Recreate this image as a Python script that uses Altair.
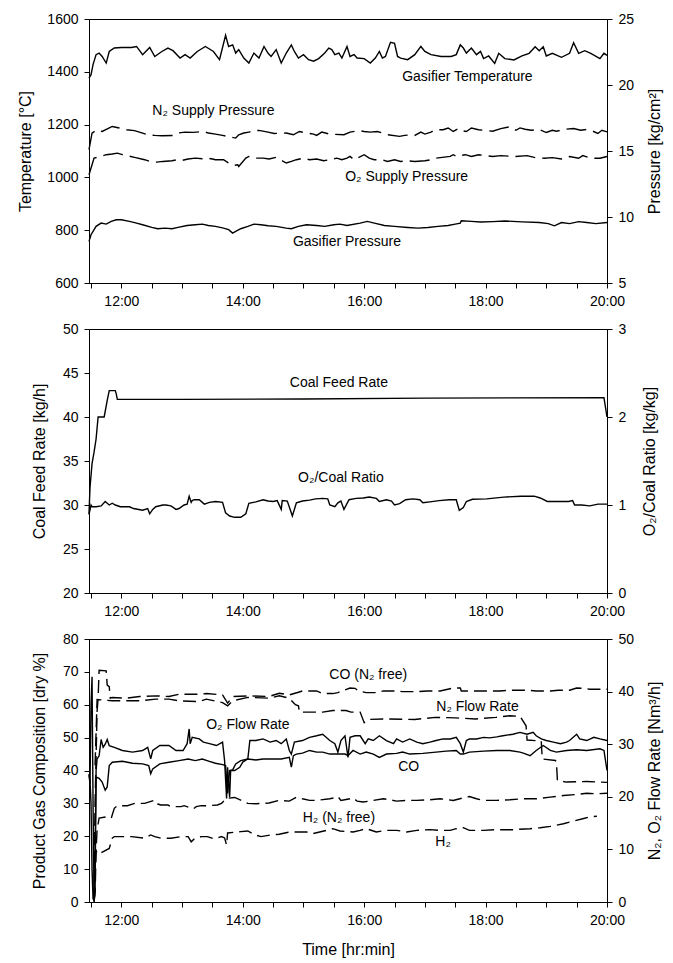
import altair as alt
import pandas as pd

FONT = "Liberation Sans"

# ---------------- Panel 1: temperature and pressures ----------------
GASIFIER_TEMPERATURE = [("11:28",1376),("11:30",1389),("11:32",1427),("11:35",1465),("11:38",1471),("11:41",1458),("11:45",1433),("11:48",1477),("11:53",1490),("12:00",1492),("12:10",1492),("12:15",1496),("12:21",1465),("12:28",1492),("12:33",1458),("12:40",1477),("12:46",1490),("12:51",1480),("12:58",1452),("13:03",1465),("13:08",1452),("13:15",1477),("13:23",1496),("13:31",1477),("13:37",1446),("13:43",1538),("13:46",1496),("13:50",1502),("13:53",1471),("13:56",1484),("14:01",1452),("14:06",1433),("14:11",1471),("14:16",1452),("14:21",1496),("14:25",1470),("14:28",1458),("14:33",1484),("14:38",1433),("14:43",1471),("14:48",1502),("14:51",1477),("14:55",1452),("15:00",1465),("15:05",1446),("15:10",1440),("15:15",1450),("15:21",1471),("15:25",1490),("15:28",1484),("15:31",1465),("15:35",1471),("15:38",1452),("15:43",1496),("15:46",1458),("15:50",1465),("15:53",1452),("16:00",1450),("16:06",1433),("16:11",1452),("16:15",1477),("16:18",1452),("16:21",1458),("16:26",1512),("16:30",1508),("16:33",1458),("16:36",1452),("16:43",1446),("16:50",1465),("16:56",1496),("17:00",1477),("17:06",1465),("17:16",1458),("17:26",1458),("17:31",1465),("17:35",1502),("17:38",1490),("17:41",1471),("17:46",1490),("17:51",1465),("17:55",1477),("17:58",1450),("18:03",1460),("18:09",1432),("18:13",1470),("18:19",1450),("18:28",1445),("18:36",1460),("18:43",1470),("18:49",1495),("18:53",1480),("18:57",1495),("19:00",1460),("19:06",1470),("19:15",1455),("19:23",1470),("19:27",1510),("19:32",1470),("19:38",1480),("19:44",1470),("19:53",1450),("19:57",1470),("20:00",1462)]

N2_SUPPLY_PRESSURE = [("11:28",15.1),("11:31",16.36),("11:36",16.61),("11:41",16.48),("11:51",16.86),("11:58",16.74),("12:05",16.61),("12:13",16.54),("12:21",16.36),("12:26",16.23),("12:33",16.18),("12:40",16.16),("12:51",16.18),("12:56",16.36),("13:03",16.43),("13:11",16.41),("13:21",16.48),("13:26",16.36),("13:33",16.28),("13:40",16.18),("13:45",16.11),("13:53",15.98),("13:56",16.23),("14:01",16.36),("14:06",16.43),("14:13",16.54),("14:16",16.56),("14:25",16.43),("14:31",16.33),("14:43",16.36),("14:50",16.23),("14:56",16.48),("15:03",16.36),("15:10",16.28),("15:13",16.18),("15:18",16.43),("15:26",16.28),("15:40",16.23),("15:46",16.43),("15:55",16.54),("16:00",16.48),("16:06",16.43),("16:13",16.48),("16:18",16.36),("16:23",16.23),("16:35",16.11),("16:40",16.18),("16:46",16.23),("16:50",16.18),("16:56",16.43),("17:00",16.28),("17:06",16.43),("17:10",16.61),("17:18",16.61),("17:23",16.74),("17:28",16.48),("17:33",16.69),("17:36",16.54),("17:41",16.48),("17:46",16.74),("17:53",16.61),("18:07",16.5),("18:15",16.7),("18:24",16.83),("18:30",16.57),("18:34",16.75),("18:39",16.65),("18:45",16.57),("18:53",16.63),("19:00",16.4),("19:06",16.57),("19:10",16.5),("19:19",16.65),("19:27",16.7),("19:34",16.57),("19:40",16.63),("19:46",16.5),("19:51",16.33),("19:55",16.57),("20:00",16.45)]

O2_SUPPLY_PRESSURE = [("11:28",13.2),("11:33",14.46),("11:40",14.59),("11:45",14.72),("11:51",14.77),("11:56",14.84),("12:01",14.72),("12:06",14.64),("12:13",14.52),("12:23",14.34),("12:28",14.21),("12:35",14.16),("12:41",14.21),("12:50",14.26),("12:55",14.34),("13:00",14.29),("13:06",14.39),("13:13",14.46),("13:20",14.41),("13:25",14.46),("13:30",14.39),("13:33",14.34),("13:41",14.34),("13:46",14.09),("13:51",13.91),("13:55",13.96),("13:56",13.83),("14:03",14.46),("14:06",14.59),("14:11",14.46),("14:20",14.46),("14:26",14.39),("14:33",14.52),("14:40",14.21),("14:43",14.09),("14:48",14.21),("14:53",14.34),("15:00",14.46),("15:06",14.34),("15:13",14.39),("15:20",14.26),("15:26",14.34),("15:33",14.46),("15:38",14.34),("15:43",14.46),("15:46",14.59),("15:50",14.34),("16:00",14.72),("16:05",14.46),("16:10",14.34),("16:18",14.34),("16:23",14.21),("16:30",14.34),("16:36",14.21),("16:43",14.26),("16:50",14.21),("17:00",14.26),("17:06",14.34),("17:11",14.46),("17:25",14.59),("17:28",14.72),("17:31",14.59),("17:40",14.72),("17:46",14.59),("17:53",14.72),("18:07",14.58),("18:15",14.65),("18:28",14.58),("18:41",14.65),("18:49",14.5),("18:58",14.45),("19:06",14.5),("19:15",14.4),("19:23",14.58),("19:32",14.45),("19:36",14.65),("19:44",14.45),("19:53",14.45),("20:00",14.58)]

GASIFIER_PRESSURE = [("11:28",8.15),("11:30",8.66),("11:35",9.29),("11:40",9.54),("11:45",9.46),("11:50",9.67),("11:55",9.79),("12:00",9.79),("12:08",9.67),("12:15",9.54),("12:21",9.41),("12:30",9.21),("12:36",9.11),("12:43",9.16),("12:50",9.11),("12:56",9.21),("13:05",9.36),("13:13",9.41),("13:20",9.46),("13:26",9.36),("13:33",9.29),("13:41",9.16),("13:46",9.04),("13:50",8.78),("13:53",8.91),("13:58",9.11),("14:05",9.29),("14:11",9.46),("14:18",9.41),("14:25",9.34),("14:33",9.29),("14:43",9.16),("14:48",9.11),("14:55",9.29),("15:03",9.41),("15:13",9.36),("15:21",9.29),("15:30",9.41),("15:36",9.46),("15:43",9.36),("15:56",9.54),("16:03",9.67),("16:10",9.54),("16:20",9.36),("16:30",9.29),("16:43",9.21),("16:53",9.16),("17:03",9.21),("17:13",9.29),("17:23",9.36),("17:30",9.46),("17:35",9.54),("17:36",9.72),("17:46",9.67),("17:55",9.62),("18:07",9.65),("18:19",9.7),("18:36",9.63),("18:53",9.58),("19:02",9.5),("19:08",9.33),("19:15",9.58),("19:23",9.5),("19:32",9.65),("19:40",9.58),("19:49",9.5),("20:00",9.58)]

# ---------------- Panel 2: coal feed and O2/coal ratio ----------------
COAL_FEED_RATE = [("11:28",29.0),("11:29",32.0),("11:31",34.7),("11:33",36.0),("11:35",37.5),("11:37",40.0),("11:43",40.0),("11:46",41.9),("11:48",43.0),("11:54",43.0),("11:55",42.6),("11:56",42.0),("13:00",42.0),("15:00",42.05),("17:00",42.15),("19:57",42.2),("20:00",40.0)]

O2_COAL_RATIO = [("11:28",0.89),("11:30",1.0),("11:31",0.98),("11:35",0.98),("11:40",0.99),("11:44",1.04),("11:48",1.0),("11:51",1.02),("11:54",1.0),("11:59",0.98),("12:08",0.98),("12:12",0.96),("12:21",0.94),("12:26",0.96),("12:28",0.90),("12:31",0.95),("12:34",0.98),("12:41",1.0),("12:44",1.0),("12:49",0.99),("12:54",0.95),("12:57",0.96),("13:02",1.0),("13:05",1.01),("13:07",1.10),("13:09",1.03),("13:10",1.05),("13:12",1.06),("13:17",1.06),("13:22",1.01),("13:27",1.03),("13:33",1.04),("13:40",1.03),("13:43",0.91),("13:47",0.875),("13:52",0.86),("13:58",0.86),("14:03",0.90),("14:06",1.02),("14:13",1.035),("14:20",1.06),("14:25",1.045),("14:30",1.04),("14:34",1.05),("14:38",0.95),("14:39",1.05),("14:44",1.045),("14:48",0.91),("14:49",0.875),("14:53",1.025),("14:59",1.045),("15:06",1.055),("15:12",1.07),("15:19",1.075),("15:24",1.07),("15:26",1.0),("15:31",0.98),("15:34",1.025),("15:37",1.045),("15:40",0.95),("15:45",1.06),("15:52",1.075),("15:59",1.08),("16:05",1.09),("16:12",1.075),("16:15",1.04),("16:22",1.06),("16:27",1.045),("16:30",1.0),("16:35",1.015),("16:41",1.06),("16:48",1.07),("16:55",1.06),("16:58",1.025),("17:05",1.035),("17:14",1.05),("17:24",1.06),("17:31",1.06),("17:34",0.94),("17:38",0.97),("17:41",1.04),("17:47",1.065),("18:01",1.07),("18:18",1.09),("18:35",1.10),("18:48",1.10),("18:54",1.08),("19:01",1.04),("19:09",1.04),("19:22",1.04),("19:26",1.05),("19:28",1.0),("19:35",1.0),("19:43",0.99),("19:51",1.01),("20:00",1.01)]

# ---------------- Panel 3: product gas and flows ----------------
CO_N2_FREE = [("11:33",0.0),("11:34",30.0),("11:36",58.0),("11:37",62.0),("11:38",70.5),("11:45",70.3),("11:46",66.0),("11:48",65.5),("11:49",62.0),("11:51",62.2),("12:05",62.0),("12:18",62.5),("12:34",62.7),("12:47",62.5),("12:57",63.2),("13:17",63.2),("13:24",63.4),("13:40",63.0),("13:45",60.5),("13:50",62.5),("14:05",62.7),("14:26",62.5),("14:36",63.5),("14:46",63.0),("14:55",63.8),("14:59",64.2),("15:13",64.2),("15:19",63.4),("15:29",63.4),("15:34",63.7),("15:46",65.1),("15:51",65.0),("15:54",64.2),("16:02",63.7),("16:12",63.7),("16:19",64.2),("16:32",64.2),("16:38",64.0),("16:52",64.0),("17:02",64.2),("17:15",64.2),("17:28",65.1),("17:35",65.1),("17:36",64.2),("17:54",64.2),("18:14",64.2),("18:24",64.4),("18:41",64.4),("18:50",64.2),("19:04",64.2),("19:12",64.4),("19:23",64.4),("19:30",65.1),("19:37",65.0),("19:43",64.7),("20:00",64.7)]

CO = [("11:28",39.0),("11:29",37.0),("11:30",30.0),("11:31",10.0),("11:32",1.0),("11:33",0.5),("11:34",15.0),("11:35",38.0),("11:38",37.6),("11:41",36.5),("11:44",34.0),("11:46",35.0),("11:48",41.5),("11:51",42.5),("12:01",42.8),("12:11",42.2),("12:21",42.0),("12:27",41.5),("12:29",39.0),("12:31",40.5),("12:38",42.0),("12:47",42.5),("12:57",43.0),("13:06",43.5),("13:13",43.0),("13:20",43.5),("13:27",42.8),("13:33",42.2),("13:40",41.8),("13:43",41.5),("13:45",33.0),("13:47",40.0),("13:50",40.2),("13:53",42.0),("13:58",43.0),("14:05",43.5),("14:13",43.2),("14:20",43.5),("14:30",43.5),("14:38",43.5),("14:46",44.0),("14:48",41.0),("14:50",44.5),("14:53",45.0),("14:59",45.3),("15:06",46.1),("15:13",45.6),("15:19",45.6),("15:26",45.0),("15:34",45.0),("15:41",45.0),("15:44",44.5),("15:49",46.1),("15:56",45.0),("16:02",45.6),("16:09",45.0),("16:15",44.0),("16:22",45.0),("16:32",45.2),("16:38",45.6),("16:45",45.0),("16:58",45.2),("17:11",45.6),("17:21",45.9),("17:31",46.1),("17:35",45.0),("17:38",45.0),("17:44",45.6),("17:58",45.9),("18:11",46.1),("18:24",46.1),("18:34",45.6),("18:38",45.2),("18:44",44.5),("18:50",46.1),("18:57",47.6),("19:04",46.1),("19:10",45.6),("19:20",46.1),("19:30",46.3),("19:40",46.1),("19:53",46.6),("19:57",46.1),("20:00",40.0)]

H2_N2_FREE = [("11:33",0.5),("11:34",10.0),("11:36",22.0),("11:38",25.5),("11:45",25.9),("11:50",25.5),("11:53",28.5),("11:56",29.3),("12:06",29.3),("12:13",30.0),("12:23",30.0),("12:33",31.0),("12:36",29.8),("12:39",29.5),("12:46",29.5),("12:49",29.0),("12:59",29.0),("13:02",29.3),("13:11",28.3),("13:14",29.0),("13:19",29.3),("13:25",29.3),("13:35",29.5),("13:39",30.0),("13:44",31.5),("13:52",31.8),("13:58",31.0),("14:05",30.0),("14:13",29.9),("14:18",30.0),("14:26",30.1),("14:36",30.9),("14:46",30.7),("14:53",31.9),("14:59",31.4),("15:06",30.9),("15:13",30.9),("15:26",31.4),("15:31",31.7),("15:34",32.1),("15:37",30.9),("15:46",31.4),("15:49",31.7),("15:53",30.7),("15:59",30.4),("16:09",30.9),("16:19",31.4),("16:25",31.1),("16:32",30.7),("16:42",30.9),("16:52",30.9),("17:05",31.1),("17:15",31.4),("17:28",30.9),("17:38",31.7),("17:44",32.1),("17:51",31.4),("17:58",30.9),("18:11",30.9),("18:24",31.1),("18:37",31.4),("18:50",31.4),("19:04",31.9),("19:17",32.4),("19:30",32.7),("19:40",33.1),("19:50",32.9),("20:00",33.1)]

H2 = [("11:33",0.5),("11:34",2.0),("11:35",15.5),("11:37",14.5),("11:48",16.3),("11:51",19.4),("11:53",19.9),("12:10",19.9),("12:23",19.4),("12:29",20.4),("12:33",19.9),("12:39",19.4),("12:49",19.4),("12:59",19.9),("13:06",19.9),("13:09",18.3),("13:12",19.2),("13:19",19.9),("13:25",19.9),("13:32",19.2),("13:39",19.9),("13:42",19.5),("13:44",17.3),("13:45",21.0),("13:58",21.4),("14:05",21.6),("14:12",20.4),("14:18",19.9),("14:28",20.4),("14:36",20.6),("14:45",21.2),("14:53",21.3),("15:03",21.3),("15:09",20.8),("15:23",21.8),("15:29",22.3),("15:36",21.6),("15:49",21.3),("15:56",21.8),("16:02",22.3),("16:12",21.3),("16:22",21.8),("16:32",21.8),("16:42",21.3),("16:52",21.8),("17:05",22.0),("17:15",21.8),("17:25",21.8),("17:31",22.3),("17:38",22.6),("17:44",21.8),("17:58",21.8),("18:11",22.0),("18:27",22.0),("18:44",22.3),("18:54",22.6),("19:04",23.0),("19:17",23.8),("19:27",24.6),("19:37",25.4),("19:43",25.9),("19:50",26.1)]

N2_FLOW_RATE = [("11:34",26.0),("11:36",38.5),("11:51",38.25),("12:18",38.25),("12:34",38.56),("12:47",38.56),("12:57",38.25),("13:17",38.1),("13:24",38.56),("13:40",37.9),("13:45",37.3),("13:50",38.25),("14:05",38.9),("14:26",38.75),("14:36",39.2),("14:46",38.75),("14:52",37.5),("14:55",37.3),("14:56",36.1),("15:19",36.1),("15:29",36.4),("15:42",36.4),("15:47",36.1),("15:56",36.1),("16:00",34.1),("16:04",34.7),("16:20",34.8),("16:50",34.7),("17:10",35.1),("17:30",35.0),("17:50",34.8),("18:10",35.1),("18:24",35.4),("18:34",35.3),("18:40",33.5),("18:41",30.8),("18:55",30.6),("18:56",27.2),("19:09",26.9),("19:10",26.6),("19:11",23.1),("19:20",22.8),("19:40",22.9),("20:00",22.75)]

O2_FLOW_RATE = [("11:28",24.1),("11:29",22.5),("11:30",37.5),("11:31",42.8),("11:32",18.8),("11:33",1.3),("11:34",1.9),("11:35",25.0),("11:36",27.2),("11:38",27.8),("11:40",30.9),("11:42",29.4),("11:44",30.0),("11:46",30.9),("11:48",29.7),("11:53",29.4),("12:01",28.8),("12:11",28.5),("12:21",28.8),("12:26",29.4),("12:29",27.2),("12:31",28.8),("12:38",29.75),("12:47",29.75),("12:54",28.8),("13:01",28.8),("13:05",30.1),("13:07",32.9),("13:08",30.1),("13:10",31.3),("13:17",31.0),("13:21",30.4),("13:27",30.1),("13:34",29.75),("13:40",30.4),("13:42",26.9),("13:44",19.7),("13:45",25.6),("13:47",19.9),("13:48",25.0),("13:52",25.0),("13:57",25.6),("14:00",26.6),("14:05",27.2),("14:07",30.7),("14:13",30.7),("14:20",31.0),("14:27",30.4),("14:33",30.7),("14:38",30.1),("14:43",31.0),("14:46",28.8),("14:48",28.1),("14:51",30.4),("14:59",30.7),("15:06",31.3),("15:13",31.6),("15:19",31.9),("15:26",30.7),("15:31",30.1),("15:34",28.5),("15:37",30.7),("15:41",31.6),("15:44",27.5),("15:46",31.3),("15:51",31.6),("15:56",31.6),("16:01",30.1),("16:04",31.0),("16:09",30.7),("16:15",31.6),("16:22",30.7),("16:29",30.1),("16:32",31.0),("16:38",30.4),("16:45",31.0),("16:52",30.4),("16:58",30.1),("17:05",30.4),("17:11",30.7),("17:18",31.0),("17:25",31.0),("17:31",31.3),("17:35",30.1),("17:38",28.5),("17:41",30.7),("17:44",31.0),("17:51",31.0),("17:58",31.3),("18:04",31.2),("18:11",31.4),("18:17",31.6),("18:27",31.9),("18:34",32.25),("18:41",31.9),("18:47",32.25),("18:50",31.6),("18:55",31.0),("19:00",30.7),("19:07",30.4),("19:14",30.1),("19:20",30.4),("19:23",30.7),("19:30",31.9),("19:33",31.0),("19:40",30.7),("19:47",31.3),("19:53",31.0),("20:00",30.7)]

# ---------------- axes ----------------
TIME_START, TIME_END = "11:28", "20:00"
TIME_TICKS = ["11:30","12:00","12:30","13:00","13:30","14:00","14:30","15:00","15:30",
              "16:00","16:30","17:00","17:30","18:00","18:30","19:00","19:30","20:00"]
TEMP_TICKS = [600, 800, 1000, 1200, 1400, 1600]
PRESSURE_TICKS = [5, 10, 15, 20, 25]
COAL_TICKS = [20, 25, 30, 35, 40, 45, 50]
RATIO_TICKS = [0, 1, 2, 3]
GAS_TICKS = [0, 10, 20, 30, 40, 50, 60, 70, 80]
FLOW_TICKS = [0, 10, 20, 30, 40, 50]

# in-plot labels: (text, time, value on left axis)
LABELS_1 = [("Gasifier Temperature", "17:42", 1379), ("N₂ Supply Pressure", "13:31", 1250),
            ("O₂ Supply Pressure", "16:42", 1000), ("Gasifier Pressure", "15:43", 757)]
LABELS_2 = [("Coal Feed Rate", "15:35", 43.9), ("O₂/Coal Ratio", "15:37", 33.1)]
LABELS_3 = [("CO (N₂ free)", "16:04", 69.1), ("N₂ Flow Rate", "17:52", 59.3),
            ("O₂ Flow Rate", "14:05", 53.9), ("CO", "16:44", 41.1),
            ("H₂ (N₂ free)", "15:35", 25.6), ("H₂", "17:18", 18.3)]


def hours(hhmm):
    h, m = hhmm.split(":")
    return int(h) + int(m) / 60.0


def frame(points):
    return pd.DataFrame({"t": [hours(a) for a, _ in points], "v": [b for _, b in points]})


X_SCALE = alt.Scale(domain=[hours(TIME_START), hours(TIME_END)], nice=False, zero=False)


def x_axis(title=None):
    return alt.Axis(values=[hours(s) for s in TIME_TICKS],
                    labelExpr="datum.value % 2 == 0 ? datum.value + ':00' : ''",
                    labelFlush=False, labelOverlap=False, tickSize=5, labelPadding=6,
                    title=title, titlePadding=14)


def series(points, y_scale, y_axis, xa, dash=None):
    mark = dict(color="black", strokeWidth=1.4)
    if dash:
        mark["strokeDash"] = dash
    return alt.Chart(frame(points)).mark_line(**mark).encode(
        x=alt.X("t:Q", scale=X_SCALE, axis=xa),
        y=alt.Y("v:Q", scale=y_scale, axis=y_axis),
    )


def labels(items, y_scale, y_axis, xa):
    df = pd.DataFrame({"t": [hours(t) for _, t, _ in items],
                       "v": [v for _, _, v in items],
                       "label": [s for s, _, _ in items]})
    return alt.Chart(df).mark_text(font=FONT, fontSize=14, color="black",
                                   align="center", baseline="middle").encode(
        x=alt.X("t:Q", scale=X_SCALE, axis=xa),
        y=alt.Y("v:Q", scale=y_scale, axis=y_axis),
        text="label:N",
    )


def left_axis(title, values, pad):
    return alt.Axis(title=title, values=values, format="d", tickSize=5, labelPadding=6,
                    titlePadding=pad)


def right_axis(title, values, pad):
    return alt.Axis(title=title, values=values, format="d", orient="right", tickSize=5,
                    labelPadding=6, titlePadding=pad, titleAngle=270, titleBaseline="top")


def panel(left_series, left_dom, left_ticks, left_title, lpad,
          right_series, right_dom, right_ticks, right_title, rpad,
          label_items, xa, height):
    ls = alt.Scale(domain=left_dom, nice=False, zero=False)
    rs = alt.Scale(domain=right_dom, nice=False, zero=False)
    la = left_axis(left_title, left_ticks, lpad)
    ra = right_axis(right_title, right_ticks, rpad)
    left = alt.layer(*[series(p, ls, la, xa, d) for p, d in left_series],
                     labels(label_items, ls, la, xa))
    right = alt.layer(*[series(p, rs, ra, xa, d) for p, d in right_series])
    return alt.layer(left, right).resolve_scale(y="independent").properties(
        width=518, height=height)


DASH_P = [20, 7]
DASH_G = [13, 6]

p1 = panel([(GASIFIER_TEMPERATURE, None)], [600, 1600], TEMP_TICKS, "Temperature [°C]", 13,
           [(N2_SUPPLY_PRESSURE, DASH_P), (O2_SUPPLY_PRESSURE, DASH_P), (GASIFIER_PRESSURE, None)],
           [5, 25], PRESSURE_TICKS, "Pressure [kg/cm²]", 13,
           LABELS_1, x_axis(), 264)

p2 = panel([(COAL_FEED_RATE, None)], [20, 50], COAL_TICKS, "Coal Feed Rate [kg/h]", 15,
           [(O2_COAL_RATIO, None)], [0, 3], RATIO_TICKS, "O₂/Coal Ratio [kg/kg]", 16,
           LABELS_2, x_axis(), 264)

p3 = panel([(CO_N2_FREE, DASH_G), (CO, None), (H2_N2_FREE, DASH_G), (H2, DASH_G)],
           [0, 80], GAS_TICKS, "Product Gas Composition [dry %]", 15,
           [(N2_FLOW_RATE, DASH_G), (O2_FLOW_RATE, None)],
           [0, 50], FLOW_TICKS, "N₂, O₂ Flow Rate [Nm³/h]", 13,
           LABELS_3, x_axis("Time [hr:min]"), 263)

chart = alt.vconcat(p1, p2, p3, spacing=12).properties(
    padding={"left": 9, "top": 3, "right": 1, "bottom": 0}
).configure_view(
    stroke="black", strokeWidth=1
).configure_axis(
    labelFont=FONT, titleFont=FONT, labelFontSize=14, titleFontSize=16,
    titleFontWeight="normal", labelColor="black", titleColor="black",
    domainColor="black", tickColor="black", grid=False, domainWidth=1, tickWidth=1,
)

chart.save("out.html", embed_options={"renderer": "svg", "actions": False})
